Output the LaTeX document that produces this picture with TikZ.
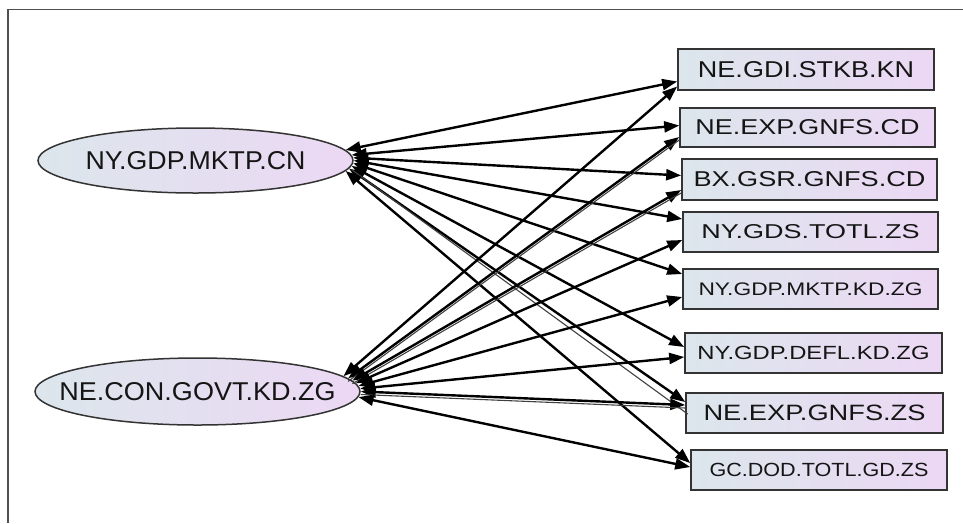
\documentclass[tikz,border=0pt]{standalone}
\usepackage{fontspec}
\setmainfont{Liberation Sans}
\usepackage{graphicx}
\usetikzlibrary{arrows.meta,shapes.geometric}

\definecolor{shadeL}{HTML}{DCE6EC}
\definecolor{shadeR}{HTML}{ECD8F4}
\definecolor{rim}{HTML}{333333}
\definecolor{ink}{HTML}{151515}
\definecolor{framegray}{HTML}{505050}

% label squeezed to a given width and cap height
\newcommand\fitlabel[3]{\resizebox{#1}{#2}{#3}}
% same, but taking no width so the ellipse keeps its given size
\newcommand\fitlabelnarrow[3]{\makebox[0pt][c]{\resizebox{#1}{#2}{#3}}}

\begin{document}
\begin{tikzpicture}[x=1pt,y=-1pt,
  varbox/.style={draw=rim, line width=1.6pt, rectangle, inner sep=0pt,
    left color=shadeL, right color=shadeR, text=ink},
  varell/.style={draw=rim, line width=1.5pt, ellipse, inner sep=0pt,
    left color=shadeL, right color=shadeR, text=ink},
  link/.style={line width=2.4pt,
    {Triangle[length=15pt,width=11pt]}-{Triangle[length=15pt,width=11pt]}},
  twin/.style={line width=1.1pt, draw=black!75}
]
\useasboundingbox (0,0) rectangle (963,523);

% outer frame (top and left edges)
\draw[framegray, line width=1.2pt] (963,9.5) -- (8,9.5) -- (8,523);

% source variables
\node[varell, minimum width=315pt, minimum height=65pt] (e1) at (195.5,160.5)
  {\fitlabelnarrow{220pt}{18pt}{NY.GDP.MKTP.CN}};
\node[varell, minimum width=325pt, minimum height=67pt] (e2) at (197.5,391.5)
  {\fitlabelnarrow{276pt}{18pt}{NE.CON.GOVT.KD.ZG}};

% target variables
\node[varbox, minimum width=256pt, minimum height=41pt] (b1) at (806,69.5)
  {\fitlabel{216pt}{16pt}{NE.GDI.STKB.KN}};
\node[varbox, minimum width=255pt, minimum height=39pt] (b2) at (807.5,127.5)
  {\fitlabel{224pt}{15pt}{NE.EXP.GNFS.CD}};
\node[varbox, minimum width=255pt, minimum height=41pt] (b3) at (809.5,179.5)
  {\fitlabel{232pt}{15pt}{BX.GSR.GNFS.CD}};
\node[varbox, minimum width=255pt, minimum height=40pt] (b4) at (810.5,232)
  {\fitlabel{218pt}{14pt}{NY.GDS.TOTL.ZS}};
\node[varbox, minimum width=255pt, minimum height=40pt] (b5) at (810.5,289)
  {\fitlabel{224pt}{12.7pt}{NY.GDP.MKTP.KD.ZG}};
\node[varbox, minimum width=257pt, minimum height=40pt] (b6) at (813.5,353)
  {\fitlabel{232pt}{13.3pt}{NY.GDP.DEFL.KD.ZG}};
\node[varbox, minimum width=257pt, minimum height=40pt] (b7) at (814.5,413)
  {\fitlabel{222pt}{15.5pt}{NE.EXP.GNFS.ZS}};
\node[varbox, minimum width=256pt, minimum height=40pt] (b8) at (819,470)
  {\fitlabel{219pt}{13.3pt}{GC.DOD.TOTL.GD.ZS}};

% links from NY.GDP.MKTP.CN
\draw[link] (e1.4)    -- ([yshift=-12pt]b1.west);
\draw[link] (e1.2.5)  -- ([yshift=2pt]b2.west);
\draw[link] (e1.1)    -- ([yshift=4pt]b3.west);
\draw[link] (e1.-0.5) -- ([yshift=13pt]b4.west);
\draw[link] (e1.-1.5) -- ([yshift=15pt]b5.west);
\draw[link] (e1.-2.5) -- ([yshift=6pt]b6.west);
\draw[link] (e1.-3.5) -- ([yshift=11pt]b7.west);
\draw[twin] ([xshift=2.5pt,yshift=-1pt]e1.-3.5) -- ([xshift=2.5pt,yshift=-1pt]b7.west);
\draw[link] (e1.-4.5) -- ([yshift=7pt]b8.west);

% links from NE.CON.GOVT.KD.ZG
\draw[link] (e2.6)    -- ([yshift=-17pt]b1.west);
\draw[link] (e2.5)    -- ([yshift=-9.5pt]b2.west);
\draw[twin] ([yshift=-3pt]e2.5) -- ([yshift=-12.5pt]b2.west);
\draw[link] (e2.4)    -- ([yshift=-10.5pt]b3.west);
\draw[twin] ([yshift=-3pt]e2.4) -- ([yshift=-13.5pt]b3.west);
\draw[link] (e2.3)    -- ([yshift=-8pt]b4.west);
\draw[link] (e2.2)    -- ([yshift=-8pt]b5.west);
\draw[link] (e2.1)    -- ([yshift=-4pt]b6.west);
\draw[link] (e2.-0.5) -- ([yshift=8pt]b7.west);
\draw[twin] ([yshift=-3pt]e2.-0.5) -- ([yshift=5pt]b7.west);
\draw[link] (e2.-2)   -- ([yshift=3pt]b8.west);
\end{tikzpicture}
\end{document}
